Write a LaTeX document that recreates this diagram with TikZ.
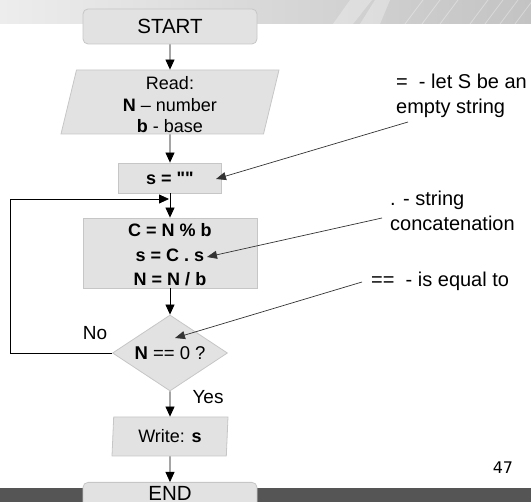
\documentclass[tikz,border=0pt]{standalone}
\usepackage{fontspec}
\setmainfont{Liberation Sans}[Ligatures=TeXOff]
\newfontfamily\pagefont{DejaVu Sans}
\usepackage{tikz}
\usetikzlibrary{shapes.geometric, arrows.meta, positioning}

\definecolor{boxfill}{HTML}{E2E2E2}
\definecolor{boxline}{HTML}{C6C6C6}
\definecolor{bandleft}{HTML}{EDEDED}
\definecolor{bandright}{HTML}{C3C3C3}
\definecolor{barcol}{HTML}{555555}
\definecolor{notecol}{HTML}{333333}

\begin{document}
\begin{tikzpicture}[x=1pt, y=-1pt,
  flowbox/.style={draw=boxline, fill=boxfill, line width=0.8pt, inner sep=0pt, align=center},
  termbox/.style={flowbox, rounded corners=5pt, minimum width=174pt, minimum height=35pt,
    font=\fontsize{20.5}{24}\selectfont},
  procbox/.style={flowbox, font=\fontsize{18}{24.5}\selectfont},
  iobox/.style={flowbox, trapezium, trapezium stretches body, font=\fontsize{18}{21.5}\selectfont},
  arr/.style={-{Triangle[length=10pt,width=9pt]}, line width=0.8pt, black},
  ptr/.style={-{Triangle[length=10pt,width=8pt]}, line width=0.7pt, notecol},
  lbl/.style={font=\fontsize{19}{22}\selectfont, inner sep=0pt},
  note/.style={font=\fontsize{20}{25}\selectfont, align=left, anchor=west, inner sep=0pt},
  ]
  \useasboundingbox (0,0) rectangle (531,502);

  % slide header band
  \shade[left color=bandleft, right color=bandright] (0,0) rectangle (531,24);
  \fill[white, opacity=0.3] (333,24) -- (353,24) -- (372,0) -- (350,0) -- cycle;
  \fill[white, opacity=0.3] (360,24) -- (380,24) -- (390,0) -- (375,0) -- cycle;
  \foreach \x in {405,422,440,470,485,500,515}{
    \draw[white, opacity=0.35, line width=0.8pt] (\x,24) -- (\x+18,0);
  }

  % slide footer bar
  \fill[barcol] (0,488) rectangle (531,502);

  % page number
  \node[font=\fontsize{16}{20}\selectfont\pagefont, inner sep=0pt] (pagenum) at (503,468) {47};

  %---- FLOW ----
  \node[termbox] (start) at (170,26.5) {START};

  \node[iobox, minimum width=218pt, minimum height=64pt,
    trapezium left angle=76, trapezium right angle=104] (read) at (170,102)
    {\rule{0pt}{19pt}Read:\\ \textbf{N} – number\\ \textbf{b} - base};

  \node[procbox, minimum width=103pt, minimum height=30pt] (init) at (170,178) {\textbf{s = ""}};

  \node[procbox, minimum width=174pt, minimum height=70pt] (calc) at (170,253)
    {\rule{0pt}{17pt}\textbf{C = N \% b}\\ \textbf{s = C . s}\\
     \raisebox{0pt}[\height][0pt]{\textbf{N = N / b}}};

  \node[flowbox, diamond, aspect=1.5, minimum width=115pt, minimum height=76pt,
    font=\fontsize{18.5}{22}\selectfont] (cond) at (170,353) {\textbf{N} == 0 ?};

  \node[iobox, minimum width=116pt, minimum height=39pt,
    trapezium left angle=82.7, trapezium right angle=97.3] (write) at (170,436.5)
    {Write: \textbf{s}};

  \node[termbox, anchor=north, minimum height=0pt, inner ysep=3pt,
    text height=15pt, text depth=16pt] (end) at (170,482) {END};

  % branch labels
  \node[lbl] (no) at (95,333) {No};
  \node[lbl] (yes) at (208,397) {Yes};

  % arrows
  \draw[arr] (start) -- (read);
  \draw[arr] (read) -- (init);
  \draw[arr] (init) -- (calc);
  \draw[arr] (calc) -- (cond);
  \draw[arr] (cond) -- (write);
  \draw[arr] (write) -- (end);

  % loop back
  \coordinate (loopcorner) at (10,199);
  \coordinate (join) at (169,199);
  \draw[arr] (cond.west) -| (loopcorner) -- (join);

  %---- NOTES ----
  \node[note] (noteA) at (396,95.5) {=\ \ - let S be an\\ empty string};
  \node[note] (noteB) at (390,210.5) {. - string\\ concatenation};
  \node[note] (noteC) at (371,281) {==\ \ - is equal to};

  \coordinate (tailA) at (408,122);
  \coordinate (tipA) at (216,179);
  \coordinate (tailB) at (382,218);
  \coordinate (tipB) at (207,257);
  \coordinate (tailC) at (362,282);
  \coordinate (tipC) at (175,338);
  \draw[ptr] (tailA) -- (tipA);
  \draw[ptr] (tailB) -- (tipB);
  \draw[ptr] (tailC) -- (tipC);
\end{tikzpicture}
\end{document}
